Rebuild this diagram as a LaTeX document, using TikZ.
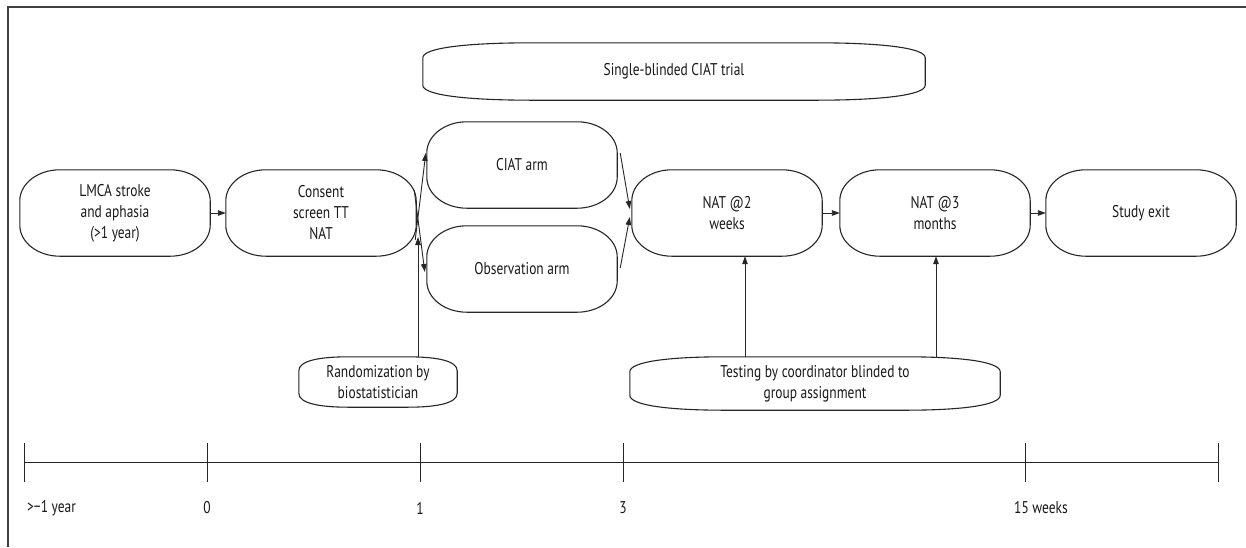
\documentclass[tikz,border=0pt]{standalone}
\usepackage{fontspec}
\setmainfont{PT Sans}[FakeStretch=0.79]
\usetikzlibrary{calc,arrows.meta}
\newcommand\rrectline[1]{%
  \draw[boxline] ($(#1.north west)+(40,0)$) -- ($(#1.north east)+(-40,0)$)
    arc[start angle=90,end angle=0,x radius=40pt,y radius=31pt]
    -- ($(#1.south east)+(0,-31)$)
    arc[start angle=0,end angle=-90,x radius=40pt,y radius=31pt]
    -- ($(#1.south west)+(40,0)$)
    arc[start angle=270,end angle=180,x radius=40pt,y radius=31pt]
    -- ($(#1.north west)+(0,31)$)
    arc[start angle=180,end angle=90,x radius=40pt,y radius=31pt] -- cycle;}
% #1 name, #2 horizontal extent of end curve, #3 vertical extent
\newcommand\ovalline[3]{%
  \draw[boxline] ($(#1.north west)+(0,#3)$) -- ($(#1.south west)+(0,-#3)$)
    .. controls +(0,10) and +(-0.6*#2,0) .. ($(#1.south west)+(#2,0)$)
    -- ($(#1.south east)+(-#2,0)$)
    .. controls +(0.6*#2,0) and +(0,10) .. ($(#1.south east)+(0,-#3)$)
    -- ($(#1.north east)+(0,#3)$)
    .. controls +(0,-10) and +(0.6*#2,0) .. ($(#1.north east)+(-#2,0)$)
    -- ($(#1.north west)+(#2,0)$)
    .. controls +(-0.6*#2,0) and +(0,-10) .. ($(#1.north west)+(0,#3)$) -- cycle;}
\tikzset{
  boxline/.style={line width=1.1pt, draw=black!85},
  stage/.style={rectangle, minimum width=190pt, minimum height=86pt, inner sep=0pt, align=center, text=black!90},
  note/.style={rectangle, inner sep=0pt, align=center, text=black!90},
  arr/.style={line width=0.9pt, draw=black!85, -{Triangle[length=8pt,width=5.5pt]}},
  axis/.style={line width=1pt, draw=black!85},
  lbl/.style={inner sep=0pt, text=black!90},
  every node/.style={font=\fontsize{17}{21}\selectfont}
}
\begin{document}
\begin{tikzpicture}[x=1pt,y=-1pt]
\useasboundingbox (0,0) rectangle (1246,547);
\fill[white] (0,0) rectangle (1246,547);
% frame
\draw[line width=1.4pt, draw=black!75] (8,547) -- (8,7) -- (1246,7);
% stage nodes
\node[stage] (lmca) at (115,213) {LMCA stroke\\and aphasia\\(>1 year)};
\node[stage] (consent) at (321,213) {Consent\\screen TT\\NAT};
\node[stage] (ciat) at (522,165) {CIAT arm};
\node[stage] (obs) at (522,269) {Observation arm};
\node[stage] (nat2) at (727,213) {NAT @2\\weeks};
\node[stage] (nat3) at (935,213) {NAT @3\\months};
\node[stage] (exit) at (1141,213) {Study exit};
\foreach \n in {lmca,consent,ciat,obs,nat2,nat3,exit}{\rrectline{\n}}
% oval notes
\node[note, minimum width=502pt, minimum height=57pt] (trial) at (674,71.5) {Single-blinded CIAT trial};
\node[note, minimum width=158pt, minimum height=50pt] (rand) at (378,382) {Randomization by\\biostatistician};
\node[note, minimum width=370pt, minimum height=53pt] (test) at (815,383.5) {Testing by coordinator blinded to\\group assignment};
\ovalline{trial}{110}{15}
\ovalline{rand}{50}{14}
\ovalline{test}{95}{15}
% connectors
\draw[arr] (lmca.east) -- (consent.west);
\draw[arr] ($(consent.east)+(-1,27)$) -- ($(ciat.west)+(-1,-12)$);
\draw[arr] ($(consent.east)+(-2,-23)$) -- ($(obs.west)+(-2,3)$);
\coordinate (rx) at (418,0);
\coordinate (t1) at (745,0);
\coordinate (t2) at (936,0);
\draw[arr] (rand.north -| rx) -- ($(consent.east -| rx)+(0,24)$);
\draw[arr] ($(ciat.east)+(3,-12)$) -- ($(nat2.west)+(-2,-4)$);
\draw[arr] ($(obs.east)+(3,-1)$) -- ($(nat2.west)+(-2,4)$);
\draw[arr] (nat2.east) -- (nat3.west);
\draw[arr] (nat3.east) -- (exit.west);
\draw[arr] (test.north -| t1) -- (nat2.south -| t1);
\draw[arr] (test.north -| t2) -- (nat3.south -| t2);
% timeline
\draw[axis] (24,462) -- (1218,462);
\foreach \x in {24,207,420,623,1025,1218}{\draw[axis] (\x,443) -- (\x,482);}
\node[lbl, anchor=west] (l0) at (27,508) {>−1 year};
\node[lbl] (l1) at (207,508) {0};
\node[lbl] (l2) at (420,508) {1};
\node[lbl] (l3) at (623,508) {3};
\node[lbl, anchor=west] (l4) at (1014,508) {15 weeks};
\end{tikzpicture}
\end{document}
